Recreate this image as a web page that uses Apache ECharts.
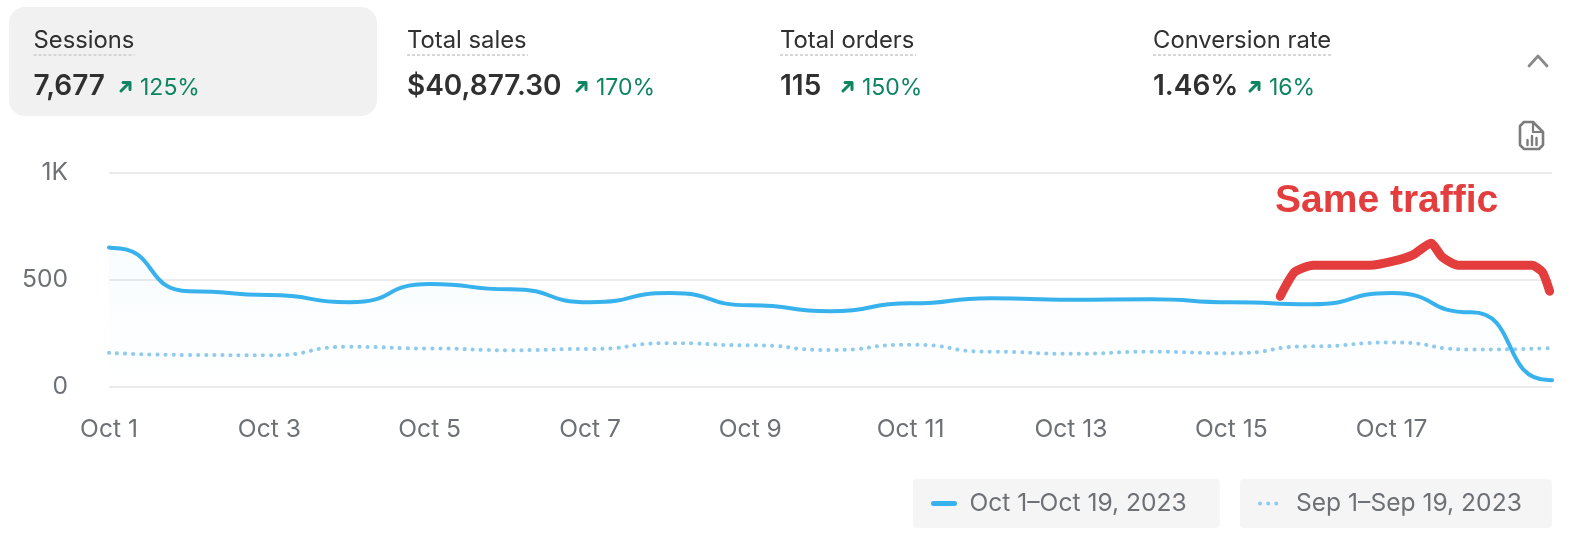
<!DOCTYPE html>
<html>
<head>
<meta charset="utf-8">
<script src="https://cdn.jsdelivr.net/npm/echarts@6/dist/echarts.min.js"></script>
<style>
  html, body { margin: 0; padding: 0; background: #fff; }
  #myCharts { width: 1578px; height: 540px; }
</style>
</head>
<body>
<div id="myCharts"></div>
<script>
// values
const days = ['Oct 1', '', 'Oct 3', '', 'Oct 5', '', 'Oct 7', '', 'Oct 9', '', 'Oct 11', '', 'Oct 13', '', 'Oct 15', '', 'Oct 17', '', ''];
const currentName = 'Oct 1–Oct 19, 2023';
const previousName = 'Sep 1–Sep 19, 2023';
// extra reading right next to each end keeps the curve flat there, as in the picture
const currentDay = [0, 0.05, 1, 2, 3, 4, 5, 6, 7, 8, 9, 10, 11, 12, 13, 14, 15, 16, 17, 17.95, 18];
const currentSessions = [652, 650, 448, 430, 396, 481, 457, 396, 439, 382, 354, 391, 415, 408, 410, 396, 387, 439, 349, 33, 32];
const previousSessions = [160, 150, 148, 188, 180, 172, 178, 205, 195, 173, 198, 165, 155, 165, 158, 190, 208, 175, 182];
const yLabels = { 0: '0', 500: '500', 1000: '1K' };

// hand drawn brace, in axis units
const braceDay = [14.61, 14.79, 15.02, 15.73, 16.02, 16.26, 16.49, 16.63, 16.83, 17.75, 17.88, 17.97];
const braceValue = [424, 537, 569, 569, 588, 616, 672, 607, 569, 569, 537, 448];

const kpiNames = ['Sessions', 'Total sales', 'Total orders', 'Conversion rate'];
const kpiValues = ['7,677', '$40,877.30', '115', '1.46%'];
const kpiChanges = ['125%', '170%', '150%', '16%'];

const kpiX = [33.5, 407, 780, 1153];
const kpiUnderline = [101, 121, 136, 180];
const arrowX = [120, 576, 842, 1249];

const INK = '#303030';
const GREY = '#6d7175';
const GREEN = '#0d8560';
const BLUE = '#38b2ec';
const PALE_BLUE = '#8fcbee';
const RED = '#e43d3d';
const FONT = 'Inter';
const SMOOTH = 0.6;

let graphics = [{
  type: 'rect', z: 0,
  shape: { x: 9, y: 7, width: 368, height: 109, r: 16 },
  style: { fill: '#f1f1f1' }
}];

function stroke(points, color, width) {
  return {
    type: 'polyline',
    shape: { points: points },
    style: { stroke: color, lineWidth: width, fill: null, lineCap: 'round', lineJoin: 'round' }
  };
}

kpiNames.forEach((name, i) => {
  graphics.push({
    type: 'text', x: kpiX[i], y: 41,
    style: { text: name, fill: INK, font: '23.8px ' + FONT, textVerticalAlign: 'middle' }
  });
  graphics.push({
    type: 'line',
    shape: { x1: kpiX[i], y1: 55, x2: kpiX[i] + kpiUnderline[i], y2: 55 },
    style: { stroke: '#cccccc', lineWidth: 1.5, lineDash: [3, 2] }
  });
  graphics.push({
    type: 'text', x: kpiX[i], y: 87,
    style: { text: kpiValues[i], fill: INK, font: '600 28px ' + FONT, textVerticalAlign: 'middle' }
  });
  let ax = arrowX[i];
  graphics.push(stroke([[ax + 1, 91], [ax + 9, 83]], GREEN, 3));
  graphics.push(stroke([[ax + 3, 82.5], [ax + 10, 82.5], [ax + 10, 89.5]], GREEN, 3));
  graphics.push({
    type: 'text', x: ax + 20, y: 88,
    style: { text: kpiChanges[i], fill: GREEN, font: '23px ' + FONT, textVerticalAlign: 'middle' }
  });
});

// chevron
graphics.push(stroke([[1529, 66], [1538, 56], [1547, 66]], '#8a8a8a', 2.8));
// report icon
graphics.push(stroke([[1524, 122], [1533, 122], [1543, 132], [1543, 145], [1539, 149], [1524, 149], [1520, 145], [1520, 126], [1524, 122]], '#7c7c7c', 2.6));
graphics.push(stroke([[1533, 122], [1533, 132], [1543, 132]], '#7c7c7c', 2.2));
graphics.push(stroke([[1527.5, 140], [1527.5, 145]], '#7c7c7c', 2.4));
graphics.push(stroke([[1532, 136], [1532, 145]], '#7c7c7c', 2.4));
graphics.push(stroke([[1536.5, 138], [1536.5, 145]], '#7c7c7c', 2.4));

graphics.push({
  type: 'text', x: 1275, y: 201, z: 20,
  style: { text: 'Same traffic', fill: RED, font: 'bold 39px "Liberation Sans"', textVerticalAlign: 'middle' }
});

function legendFor(name, left, rightPad, lineStyle) {
  return {
    left: left, top: 479,
    data: [name],
    backgroundColor: '#f5f5f5', borderRadius: 4,
    padding: [12, rightPad, 12, 18], itemWidth: 21, itemHeight: 24, itemGap: 0,
    itemStyle: { opacity: 0 },
    lineStyle: lineStyle,
    textStyle: { color: GREY, fontSize: 24.6, fontFamily: FONT, padding: [0, 0, 0, 10] }
  };
}

let option = {
  animation: false,
  backgroundColor: '#fff',
  textStyle: { fontFamily: FONT },
  grid: { left: 109, right: 26, top: 173, bottom: 153 },
  xAxis: {
    type: 'value',
    min: 0,
    max: 18,
    interval: 2,
    axisLine: { show: false },
    axisTick: { show: false },
    splitLine: { show: false },
    axisLabel: {
      color: GREY, fontSize: 24.6, fontFamily: FONT, margin: 30,
      showMaxLabel: true, hideOverlap: false,
      formatter: value => days[value]
    }
  },
  yAxis: {
    type: 'value',
    min: 0,
    max: 1000,
    interval: 500,
    axisLine: { show: false },
    axisTick: { show: false },
    splitLine: { lineStyle: { color: '#ebebeb', width: 2 } },
    axisLabel: {
      color: GREY, fontSize: 24.6, fontFamily: FONT, margin: 41,
      formatter: value => yLabels[value]
    }
  },
  legend: [
    legendFor(currentName, 913, 33, { width: 5, cap: 'round' }),
    legendFor(previousName, 1240, 30, { width: 4, type: [0.1, 8], cap: 'round' })
  ],
  series: [{
    name: previousName,
    type: 'line',
    data: previousSessions.map((v, i) => [i, v]),
    symbol: 'none',
    smooth: SMOOTH,
    smoothMonotone: 'x',
    itemStyle: { color: PALE_BLUE },
    lineStyle: { color: PALE_BLUE, width: 4, type: [0.1, 8], cap: 'round' },
    z: 3
  }, {
    name: currentName,
    type: 'line',
    data: currentDay.map((d, i) => [d, currentSessions[i]]),
    symbol: 'none',
    smooth: SMOOTH,
    smoothMonotone: 'x',
    itemStyle: { color: BLUE },
    lineStyle: { color: BLUE, width: 4, cap: 'round' },
    areaStyle: {
      color: new echarts.graphic.LinearGradient(0, 0, 0, 1, [
        { offset: 0, color: 'rgba(56,178,236,0.05)' },
        { offset: 1, color: 'rgba(56,178,236,0)' }
      ])
    },
    z: 4
  }, {
    name: 'brace',
    type: 'line',
    data: braceDay.map((d, i) => [d, braceValue[i]]),
    symbol: 'none',
    clip: false,
    smooth: 0.2,
    lineStyle: { color: RED, width: 9, cap: 'round', join: 'round' },
    z: 10
  }],
  graphic: graphics
};

var myChart = echarts.init(document.getElementById('myCharts'), null, { renderer: 'canvas' });
myChart.setOption(option);
</script>
</body>
</html>
